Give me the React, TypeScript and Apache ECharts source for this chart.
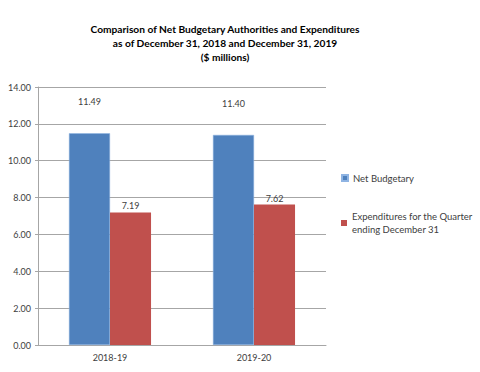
import React, { useEffect, useRef } from "react";
import * as echarts from "echarts";

const categories = ["2018-19", "2019-20"];
const netBudgetary = [11.49, 11.4];
const expenditures = [7.19, 7.62];
const seriesNames = ["Net Budgetary", "Expenditures for the Quarter\nending December 31"];
const titleText =
  "Comparison of Net Budgetary Authorities and Expenditures\nas of December 31, 2018 and December 31, 2019\n($ millions)";

const FONT = "Lato, 'Noto Sans', sans-serif";

export default function App() {
  const ref = useRef<HTMLDivElement>(null);
  useEffect(() => {
    if (!ref.current) return;
    const chart = echarts.init(ref.current, null, { renderer: "svg" });
    chart.setOption({
      animation: false,
      backgroundColor: "#ffffff",
      textStyle: { fontFamily: FONT },
      graphic: [
        {
          type: "text",
          x: 225,
          y: 22,
          style: {
            text: titleText,
            align: "center",
            verticalAlign: "top",
            fontSize: 10.2,
            fontWeight: "bold",
            fontFamily: FONT,
            lineHeight: 14,
            fill: "#000",
          },
        },
      ],
      legend: [
        {
          data: [seriesNames[0]],
          orient: "vertical",
          left: 336,
          top: 168,
          itemWidth: 6,
          itemHeight: 6,
          icon: "rect",
          textStyle: { fontSize: 9.5, color: "#404040", fontFamily: FONT },
        },
        {
          data: [seriesNames[1]],
          orient: "vertical",
          left: 336,
          top: 205,
          itemWidth: 6,
          itemHeight: 6,
          icon: "rect",
          textStyle: { fontSize: 9.5, color: "#404040", lineHeight: 13, fontFamily: FONT },
        },
      ],
      grid: { left: 38, right: 154, top: 87, bottom: 27, containLabel: false },
      xAxis: {
        type: "category",
        data: categories,
        axisLine: { lineStyle: { color: "#a6a6a6" } },
        axisTick: { show: false },
        axisLabel: { fontSize: 9, color: "#404040", margin: 8, fontFamily: FONT },
      },
      yAxis: {
        type: "value",
        min: 0,
        max: 14,
        interval: 2,
        axisLine: { show: true, lineStyle: { color: "#a6a6a6" } },
        axisTick: { show: true, length: 3, lineStyle: { color: "#a6a6a6" } },
        splitLine: { lineStyle: { color: "#a6a6a6" } },
        axisLabel: {
          fontSize: 9,
          color: "#404040",
          margin: 7,
          fontFamily: FONT,
          formatter: (v: number) => v.toFixed(2),
        },
      },
      series: [
        {
          name: seriesNames[0],
          type: "bar",
          data: netBudgetary,
          barCategoryGap: "43%",
          barGap: "0%",
          itemStyle: { color: "#4f81bd", borderColor: "#8fb4e3", borderWidth: 0.5 },
          label: {
            show: true,
            position: "top",
            offset: [0, -22],
            fontSize: 9,
            color: "#404040",
            fontFamily: FONT,
            formatter: (p: any) => p.value.toFixed(2),
          },
        },
        {
          name: seriesNames[1],
          type: "bar",
          data: expenditures,
          itemStyle: { color: "#c0504d" },
          label: {
            show: true,
            position: "top",
            distance: 2,
            fontSize: 9,
            color: "#404040",
            fontFamily: FONT,
            formatter: (p: any) => p.value.toFixed(2),
          },
        },
      ],
    });
    return () => chart.dispose();
  }, []);
  return <div ref={ref} style={{ width: 480, height: 372, position: "absolute", left: 0, top: 0 }} />;
}
